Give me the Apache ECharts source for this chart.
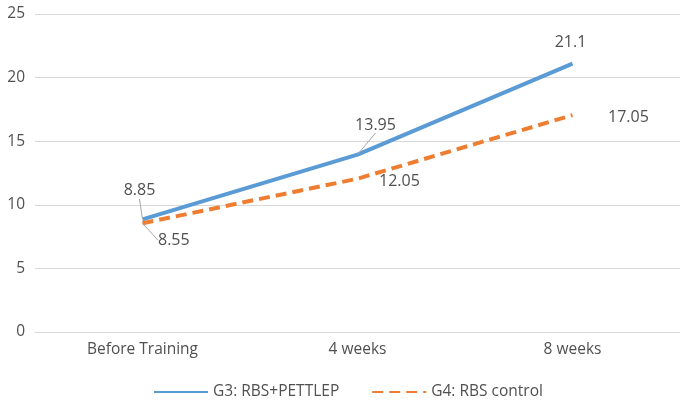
<!DOCTYPE html>
<html>
<head>
<meta charset="utf-8">
<script src="https://cdn.jsdelivr.net/npm/echarts@6/dist/echarts.min.js"></script>
<style>
  html, body { margin: 0; padding: 0; background: #fff; }
  #chart { width: 680px; height: 403px; }
</style>
</head>
<body>
<div id="chart"></div>
<script>
// Training stages on the x axis
const categories = ['Before Training', '4 weeks', '8 weeks'];
// Mean scores per group
const g3Values = [8.85, 13.95, 21.1];
const g4Values = [8.55, 12.05, 17.05];
const seriesNames = ['G3: RBS+PETTLEP', 'G4: RBS control'];
const yTicks = { min: 0, max: 25, interval: 5 };

const FONT = 'Open Sans';
const TEXT = '#505050';
const SIZE = 15.5;

// Label nudges (dx, dy) per point, keeping values readable around the lines
const g3Shift = [[-3, -15], [18, -16], [-2, -8]];
const g4Shift = [[10, 17], [16, 3], [30, 2]];
// Points whose value label gets a leader line
const g3Leader = [true, true, false];
const g4Leader = [true, false, false];

const leader = { color: '#a6a6a6', width: 1 };
const toItems = (vals, flags) => vals.map((v, i) => ({
  value: v,
  labelLine: { show: flags[i], lineStyle: leader }
}));

const chart = echarts.init(document.getElementById('chart'), null, { renderer: 'canvas' });

chart.setOption({
  animation: false,
  textStyle: { fontFamily: FONT },
  grid: { left: 35, right: -9, top: 14, bottom: 71 },
  legend: {
    left: 148,
    top: 379,
    itemWidth: 54,
    itemHeight: 10,
    itemGap: 32,
    itemStyle: { opacity: 0 },
    textStyle: { fontFamily: FONT, fontSize: SIZE, color: TEXT },
    data: seriesNames
  },
  xAxis: {
    type: 'category',
    data: categories,
    boundaryGap: true,
    axisLine: { show: true, lineStyle: { color: '#d9d9d9', width: 1 } },
    axisTick: { show: false },
    axisLabel: { color: TEXT, fontSize: SIZE, fontFamily: FONT, margin: 10 }
  },
  yAxis: {
    type: 'value',
    min: yTicks.min,
    max: yTicks.max,
    interval: yTicks.interval,
    axisLine: { show: false },
    axisTick: { show: false },
    axisLabel: { color: TEXT, fontSize: SIZE, fontFamily: FONT, margin: 10 },
    splitLine: { lineStyle: { color: '#d9d9d9', width: 1 } }
  },
  series: [
    {
      name: seriesNames[0],
      type: 'line',
      data: toItems(g3Values, g3Leader),
      symbol: 'circle',
      symbolSize: 1,
      showSymbol: true,
      lineStyle: { color: '#5B9BD5', width: 4 },
      itemStyle: { color: '#5B9BD5', opacity: 0 },
      label: { show: true, opacity: 1, position: 'top', color: TEXT, fontSize: 16, fontFamily: FONT },
      labelLine: { show: false, lineStyle: leader },
      labelLayout: p => ({ dx: g3Shift[p.dataIndex][0], dy: g3Shift[p.dataIndex][1] })
    },
    {
      name: seriesNames[1],
      type: 'line',
      data: toItems(g4Values, g4Leader),
      symbol: 'circle',
      symbolSize: 1,
      showSymbol: true,
      lineStyle: { color: '#ED7D31', width: 4, type: [11, 6] },
      itemStyle: { color: '#ED7D31', opacity: 0 },
      label: { show: true, opacity: 1, position: 'right', color: TEXT, fontSize: 16, fontFamily: FONT },
      labelLine: { show: false, lineStyle: leader },
      labelLayout: p => ({ dx: g4Shift[p.dataIndex][0], dy: g4Shift[p.dataIndex][1] })
    }
  ]
});
</script>
</body>
</html>
